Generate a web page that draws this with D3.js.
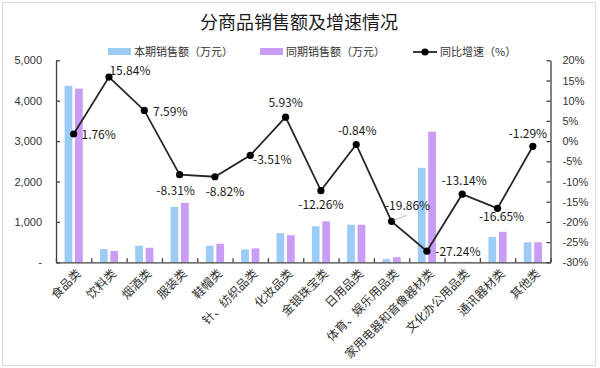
<!DOCTYPE html>
<html lang="zh">
<head>
  <meta charset="UTF-8">
  <title>分商品销售额及增速情况</title>
  <script src="https://d3js.org/d3.v7.min.js"></script>
  <style>
    body { margin: 0; background: #fff; }
    svg { display: block; font-family: "Noto Sans CJK SC", "Noto Sans", sans-serif; }
    .axis path, .axis line { stroke: #404040; stroke-width: 1.3; }
    .axis text { fill: #333; font-size: 11px; }
  </style>
</head>
<body>
  <svg id="chart" width="600" height="368"></svg>

  <script>
    // chart values
    const categories = ["食品类", "饮料类", "烟酒类", "服装类", "鞋帽类", "针、纺织品类", "化妆品类",
      "金银珠宝类", "日用品类", "体育、娱乐用品类", "家用电器和音像器材类", "文化办公用品类", "通讯器材类", "其他类"];
    const currentSales = [4370, 330, 410, 1370, 410, 320, 720, 890, 930, 80, 2340, 10, 625, 495];
    const lastYearSales = [4300, 280, 360, 1470, 460, 345, 670, 1015, 930, 125, 3235, 12, 755, 495];
    const growth = [1.76, 15.84, 7.59, -8.31, -8.82, -3.51, 5.93, -12.26, -0.84, -19.86, -27.24, -13.14, -16.65, -1.29];
    const leftTicks = [0, 1000, 2000, 3000, 4000, 5000];
    const rightTicks = [-30, -25, -20, -15, -10, -5, 0, 5, 10, 15, 20];

    // label placement (offset of label centre from its point)
    const labelOffset = [[25, 1], [21, -6], [26, 1], [-4, 16], [10, 15], [22, 5], [0, -14],
      [0, 14], [1, -14], [16, -16], [31, 1], [2, -13], [4, 8], [-5, -13]];

    const svg = d3.select("#chart");
    const plotLeft = 56, plotRight = 550.5, plotTop = 60.3, plotBottom = 262.3;

    // chart area border
    svg.append("rect")
      .attr("x", 2.5).attr("y", 2.5)
      .attr("width", 593).attr("height", 363)
      .attr("fill", "#fff")
      .attr("stroke", "#d9d9d9");

    // title
    svg.append("text")
      .attr("x", 299).attr("y", 29)
      .attr("text-anchor", "middle")
      .attr("font-size", 18)
      .attr("fill", "#1a1a1a")
      .text("分商品销售额及增速情况");

    const x = d3.scaleBand()
      .domain(categories)
      .range([plotLeft, plotRight])
      .padding(0);

    const x1 = d3.scaleBand()
      .domain(["cur", "prev"])
      .range([0, x.bandwidth()])
      .paddingInner(0.26)
      .paddingOuter(0.82);

    const yL = d3.scaleLinear().domain([0, 5000]).range([plotBottom, plotTop]);
    const yR = d3.scaleLinear().domain([-30, 20]).range([plotBottom, plotTop]);

    // bars
    const g = svg.append("g");
    g.selectAll(".bar-cur")
      .data(currentSales)
      .enter().append("rect")
      .attr("x", (d, i) => x(categories[i]) + x1("cur"))
      .attr("y", d => yL(d))
      .attr("width", x1.bandwidth())
      .attr("height", d => yL(0) - yL(d))
      .attr("fill", "#9ccbf6");

    g.selectAll(".bar-prev")
      .data(lastYearSales)
      .enter().append("rect")
      .attr("x", (d, i) => x(categories[i]) + x1("prev"))
      .attr("y", d => yL(d))
      .attr("width", x1.bandwidth())
      .attr("height", d => yL(0) - yL(d))
      .attr("fill", "#c99cf5");

    // axes
    svg.append("g")
      .attr("class", "axis")
      .attr("transform", `translate(${plotLeft},0)`)
      .call(d3.axisLeft(yL).tickValues(leftTicks)
        .tickFormat(d => d === 0 ? "-" : d3.format(",")(d))
        .tickSizeInner(-4).tickSizeOuter(0).tickPadding(14));

    svg.append("g")
      .attr("class", "axis")
      .attr("transform", `translate(${plotRight},0)`)
      .call(d3.axisRight(yR).tickValues(rightTicks)
        .tickFormat(d => d + "%")
        .tickSizeInner(-4).tickSizeOuter(0).tickPadding(12));

    const xIdx = d3.scaleLinear().domain([0, categories.length]).range([plotLeft, plotRight]);
    svg.append("g")
      .attr("class", "axis")
      .attr("transform", `translate(0,${plotBottom})`)
      .call(d3.axisBottom(xIdx).tickValues(d3.range(categories.length + 1))
        .tickFormat("").tickSizeInner(-4).tickSizeOuter(0));

    // category labels
    svg.append("g")
      .selectAll("text")
      .data(categories)
      .enter().append("text")
      .attr("transform", d => `translate(${x(d) + x.bandwidth() / 2 + 5},${plotBottom + 9}) rotate(-45)`)
      .attr("text-anchor", "end")
      .attr("dy", "0.35em")
      .attr("font-size", 12)
      .attr("fill", "#333")
      .text(d => d);

    // growth line
    const cx = i => x(categories[i]) + x.bandwidth() / 2;
    const line = d3.line()
      .x((d, i) => cx(i))
      .y(d => yR(d));

    svg.append("path")
      .datum(growth)
      .attr("fill", "none")
      .attr("stroke", "#262626")
      .attr("stroke-width", 1.8)
      .attr("d", line);

    svg.selectAll(".dot")
      .data(growth)
      .enter().append("circle")
      .attr("cx", (d, i) => cx(i))
      .attr("cy", d => yR(d))
      .attr("r", 3.6)
      .attr("fill", "#000");

    // leader line for the crowded label
    const li = 9;
    svg.append("line")
      .attr("x1", cx(li) + 2).attr("y1", yR(growth[li]) - 1)
      .attr("x2", cx(li) + 15).attr("y2", yR(growth[li]) - 6)
      .attr("stroke", "#a6a6a6")
      .attr("stroke-width", 0.8);

    svg.selectAll(".lbl")
      .data(growth)
      .enter().append("text")
      .attr("x", (d, i) => cx(i) + labelOffset[i][0])
      .attr("y", (d, i) => yR(d) + labelOffset[i][1])
      .attr("dy", "0.35em")
      .attr("text-anchor", "middle")
      .attr("font-size", 12)
      .attr("fill", "#1a1a1a")
      .text(d => d.toFixed(2) + "%");

    // legend
    const legend = svg.append("g").attr("font-size", 11).attr("fill", "#333");
    legend.append("rect").attr("x", 108).attr("y", 48).attr("width", 23).attr("height", 7).attr("fill", "#9ccbf6");
    legend.append("text").attr("x", 134).attr("y", 52).attr("dy", "0.35em").text("本期销售额（万元）");
    legend.append("rect").attr("x", 260).attr("y", 48).attr("width", 23).attr("height", 7).attr("fill", "#c99cf5");
    legend.append("text").attr("x", 286).attr("y", 52).attr("dy", "0.35em").text("同期销售额（万元）");
    legend.append("line").attr("x1", 413).attr("x2", 437).attr("y1", 52).attr("y2", 52)
      .attr("stroke", "#262626").attr("stroke-width", 1.8);
    legend.append("circle").attr("cx", 425).attr("cy", 52).attr("r", 3.6).attr("fill", "#000");
    legend.append("text").attr("x", 440).attr("y", 52).attr("dy", "0.35em").text("同比增速（%）");
  </script>
</body>
</html>
